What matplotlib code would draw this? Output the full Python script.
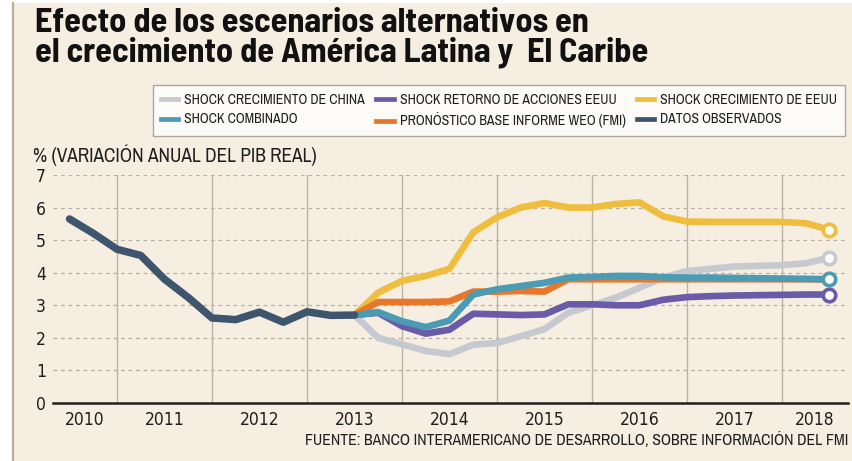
import matplotlib
matplotlib.use("Agg")
import matplotlib.pyplot as plt
from matplotlib.lines import Line2D
from matplotlib.patches import Rectangle
import pandas as pd

# ---------------- data ----------------
periods_obs = ["2010Q3", "2010Q4", "2011Q1", "2011Q2", "2011Q3", "2011Q4", "2012Q1",
               "2012Q2", "2012Q3", "2012Q4", "2013Q1", "2013Q2", "2013Q3"]
observados = [5.65, 5.21, 4.72, 4.53, 3.80, 3.24, 2.61, 2.56, 2.79, 2.48, 2.80, 2.69, 2.70]

periods_fc = ["2013Q3", "2013Q4", "2014Q1", "2014Q2", "2014Q3", "2014Q4", "2015Q1",
              "2015Q2", "2015Q3", "2015Q4", "2016Q1", "2016Q2", "2016Q3", "2016Q4",
              "2017Q1", "2017Q2", "2017Q3", "2017Q4", "2018Q1", "2018Q2", "2018Q3"]
shock_china = [2.70, 2.00, 1.80, 1.60, 1.50, 1.79, 1.84, 2.05, 2.27, 2.77, 3.00, 3.23,
               3.54, 3.85, 4.05, 4.12, 4.19, 4.21, 4.23, 4.29, 4.46]
shock_acciones = [2.70, 2.77, 2.36, 2.13, 2.25, 2.74, 2.72, 2.70, 2.72, 3.03, 3.03, 3.00,
                  3.00, 3.17, 3.25, 3.28, 3.30, 3.31, 3.32, 3.33, 3.33]
shock_eeuu = [2.70, 3.39, 3.75, 3.90, 4.12, 5.24, 5.70, 6.00, 6.14, 6.00, 6.00, 6.11,
              6.16, 5.73, 5.57, 5.56, 5.56, 5.56, 5.56, 5.52, 5.32]
shock_combinado = [2.70, 2.79, 2.51, 2.33, 2.53, 3.33, 3.49, 3.59, 3.69, 3.85, 3.87, 3.90,
                   3.90, 3.86, 3.85, 3.85, 3.84, 3.83, 3.82, 3.81, 3.80]
pronostico = [2.70, 3.10, 3.10, 3.10, 3.12, 3.42, 3.42, 3.44, 3.42, 3.80, 3.80, 3.80,
              3.80, 3.80, 3.80, 3.80, 3.80, 3.80, 3.80, 3.80, 3.79]

years = [2010, 2011, 2012, 2013, 2014, 2015, 2016, 2017, 2018]
yticks = [0, 1, 2, 3, 4, 5, 6, 7]

title = "Efecto de los escenarios alternativos en\nel crecimiento de América Latina y  El Caribe"
ylabel = "% (VARIACIÓN ANUAL DEL PIB REAL)"
source = "FUENTE: BANCO INTERAMERICANO DE DESARROLLO, SOBRE INFORMACIÓN DEL FMI"

labels = {
    "china": "SHOCK CRECIMIENTO DE CHINA",
    "acciones": "SHOCK RETORNO DE ACCIONES EEUU",
    "eeuu": "SHOCK CRECIMIENTO DE EEUU",
    "combinado": "SHOCK COMBINADO",
    "pronostico": "PRONÓSTICO BASE INFORME WEO (FMI)",
    "observados": "DATOS OBSERVADOS",
}

colors = {
    "china": "#C6CAD0",
    "acciones": "#6A5BA8",
    "eeuu": "#EFBE3E",
    "combinado": "#4B9BB4",
    "pronostico": "#E6772B",
    "observados": "#3E566D",
}


def to_x(p):
    per = pd.Period(p, freq="Q")
    return per.year + (per.quarter - 1) / 4


x_obs = [to_x(p) for p in periods_obs]
x_fc = [to_x(p) for p in periods_fc]

BG = "#F6EEE1"
W, H = 852, 461
fig = plt.figure(figsize=(W / 100, H / 100), dpi=100, facecolor="white")

# cream panel with brown left rule
fig.patches.append(Rectangle((12 / W, 0), 1 - 12 / W, 1 - 3 / H, transform=fig.transFigure,
                             facecolor=BG, edgecolor="none", zorder=-10))
fig.add_artist(Line2D([12.5 / W, 12.5 / W], [0, 1 - 3 / H], transform=fig.transFigure,
                      color="#BFAE98", lw=1.6))

left, right, y0, y7 = 53, 848, 403, 175
ax = fig.add_axes([left / W, 1 - y0 / H, (right - left) / W, (y0 - y7) / H])
ax.set_facecolor("none")
xmin, xmax = 2010.326, 2018.695
ax.set_xlim(xmin, xmax)
ax.set_ylim(0, 7)
for s in ["top", "right", "left"]:
    ax.spines[s].set_visible(False)
ax.spines["bottom"].set_color("#1E1E1E")
ax.spines["bottom"].set_linewidth(1.8)

# grid
for v in yticks[1:]:
    ax.axhline(v, color="#B8AFA3", lw=0.9, ls=(0, (3, 3)), zorder=1)
for yv in years[1:]:
    ax.axvline(yv, color="#BCB3A7", lw=1.0, zorder=1)

ax.set_yticks(yticks)
ax.set_yticklabels([str(v) for v in yticks], family="DejaVu Sans", stretch="condensed",
                   fontsize=12.5, color="#1E1E1E")
xt = [(max(y, xmin) + min(y + 1, xmax)) / 2 for y in years]
ax.set_xticks(xt)
ax.set_xticklabels([str(y) for y in years], family="DejaVu Sans", stretch="condensed",
                   fontsize=12.5, color="#1E1E1E")
ax.tick_params(axis="both", length=0)
ax.tick_params(axis="y", pad=5)
ax.tick_params(axis="x", pad=6)

lw = 4.8
series = [
    ("china", shock_china, 3),
    ("acciones", shock_acciones, 4),
    ("eeuu", shock_eeuu, 5),
    ("pronostico", pronostico, 6),
    ("combinado", shock_combinado, 7),
]
for key, vals, z in series:
    ax.plot(x_fc, vals, color=colors[key], lw=lw, solid_capstyle="round",
            solid_joinstyle="round", zorder=z, clip_on=False)
ax.plot(x_obs, observados, color=colors["observados"], lw=5.4, solid_capstyle="round",
        solid_joinstyle="round", zorder=8, clip_on=False)
for key, vals, z in series:
    if key == "pronostico":
        continue
    ax.plot([x_fc[-1]], [vals[-1]], marker="o", ms=9, mfc="#FBFBF8", mec=colors[key],
            mew=2.6, zorder=10, clip_on=False, ls="none")

# legend
order = ["china", "combinado", "acciones", "pronostico", "eeuu", "observados"]
handles = [Line2D([], [], color=colors[k], lw=3.4) for k in order]
leg = fig.legend(handles, [labels[k] for k in order], ncol=3, loc="upper right",
                 bbox_to_anchor=(845 / W, 1 - 85 / H), frameon=True, fancybox=False,
                 prop={"family": "Archivo Narrow", "size": 10.0}, handlelength=1.25,
                 handletextpad=0.45, columnspacing=0.8, labelspacing=0.42,
                 borderpad=0.55, borderaxespad=0)
leg.get_frame().set_facecolor("white")
leg.get_frame().set_edgecolor("#9A948C")
leg.get_frame().set_linewidth(1.0)
for t in leg.get_texts():
    t.set_color("#1E1E1E")

fig.text(35 / W, 1 - 8 / H, title, ha="left", va="top", family="Barlow Semi Condensed",
         weight="bold", fontsize=24.6, linespacing=0.96, color="#111111")
fig.text(33 / W, 1 - 155 / H, ylabel, ha="left", va="center", family="Archivo Narrow",
         fontsize=13.9, color="#1E1E1E")
fig.text(848 / W, 1 - 440 / H, source, ha="right", va="center", family="Archivo Narrow",
         fontsize=11.4, color="#1E1E1E")

fig.savefig("out.png", dpi=100, facecolor="white")
